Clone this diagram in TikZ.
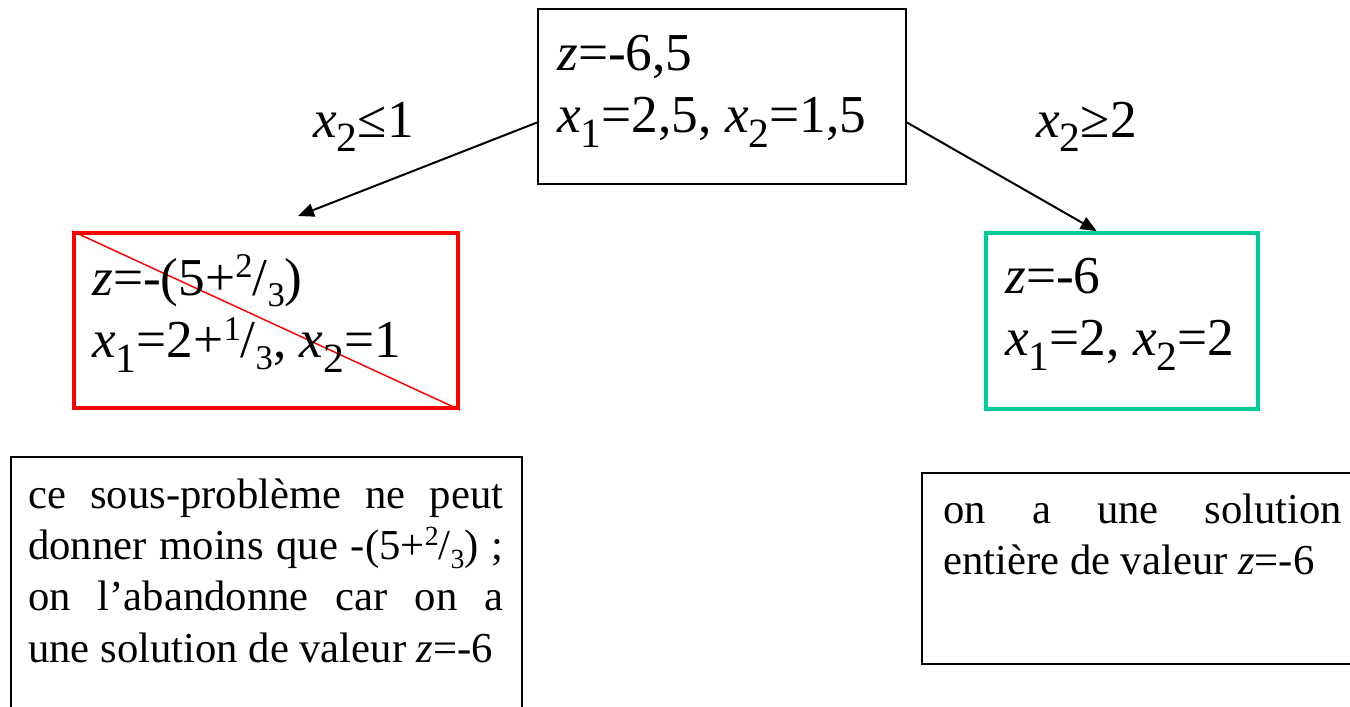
\documentclass[tikz,border=0pt]{standalone}
\usepackage{fontspec}
\setmainfont{Liberation Serif}
\usetikzlibrary{fit,calc,arrows.meta}
\definecolor{boxred}{RGB}{255,0,0}
\definecolor{boxgreen}{RGB}{0,204,153}
\newcommand\dn[1]{\raisebox{-0.28em}{\scalebox{0.78}{#1}}}
\newcommand\fr[2]{\raisebox{0.33em}{\scalebox{0.65}{#1}}/\raisebox{-0.22em}{\scalebox{0.65}{#2}}}
\tikzset{
  bigtext/.style={inner sep=0pt, anchor=base west, font=\fontsize{40}{47}\selectfont},
  smalltext/.style={inner sep=0pt, anchor=base west, font=\fontsize{32}{38.6}\selectfont},
  plainbox/.style={draw=black, line width=1.5pt, inner sep=0pt},
  conn/.style={line width=1.5pt, -{Triangle[length=12pt,width=10pt]}},
}
\begin{document}
\begin{tikzpicture}[x=0.75pt,y=-0.75pt]
\clip (0,0) rectangle (1350,707);
\fill[white] (0,0) rectangle (1350,707);
% boxes
\node[plainbox, fit={(538,9) (906,184)}] (top) {};
\node[draw=boxred, line width=3pt, inner sep=0pt, fit={(74,233) (458,408)}] (left) {};
\node[draw=boxgreen, line width=3pt, inner sep=0pt, fit={(986,233) (1258,409)}] (right) {};
\node[plainbox, fit={(11,457) (522,725)}] (noteL) {};
\node[plainbox, fit={(922,473) (1370,664)}] (noteR) {};
% cross-out
\draw[boxred, line width=1.1pt] (left.north west) -- (left.south east);
% texts
\node[bigtext] (topT) at (557,70) {\parbox[t]{300pt}{\raggedright\textit{z}=-6,5\\ \textit{x}\dn{1}=2,5, \textit{x}\dn{2}=1,5}};
\node[bigtext] (leftT) at (92,295) {\parbox[t]{300pt}{\raggedright\textit{z}=-(5+\fr{2}{3})\\ \textit{x}\dn{1}=2+\fr{1}{3}, \textit{x}\dn{2}=1}};
\node[bigtext] (rightT) at (1005,293) {\parbox[t]{250pt}{\raggedright\textit{z}=-6\\ \textit{x}\dn{1}=2, \textit{x}\dn{2}=2}};
\node[bigtext] (labL) at (313,137) {\textit{x}\dn{2}≤1};
\node[bigtext] (labR) at (1036,137) {\textit{x}\dn{2}≥2};
\node[smalltext] (noteLT) at (28,508) {\parbox[t]{356.25pt}{\parindent=0pt\hyphenpenalty=10000
ce sous-problème ne peut\linebreak donner moins que -(5+\fr{2}{3})~;\linebreak on l’abandonne car on a\linebreak une solution de valeur \textit{z}=-6}};
\node[smalltext] (noteRT) at (943,523) {\parbox[t]{299.25pt}{\parindent=0pt\hyphenpenalty=10000
on a une solution\linebreak entière de valeur \textit{z}=-6}};
% connectors
\coordinate (startL) at ($(top.north west)!0.647!(top.south west)$);
\coordinate (startR) at ($(top.north east)!0.647!(top.south east)$);
\coordinate (tipL) at (298,216);
\coordinate (tipR) at ($(right.north west)!0.408!(right.north east)$);
\draw[conn] (startL) -- (tipL);
\draw[conn] (startR) -- (tipR);
\end{tikzpicture}
\end{document}
